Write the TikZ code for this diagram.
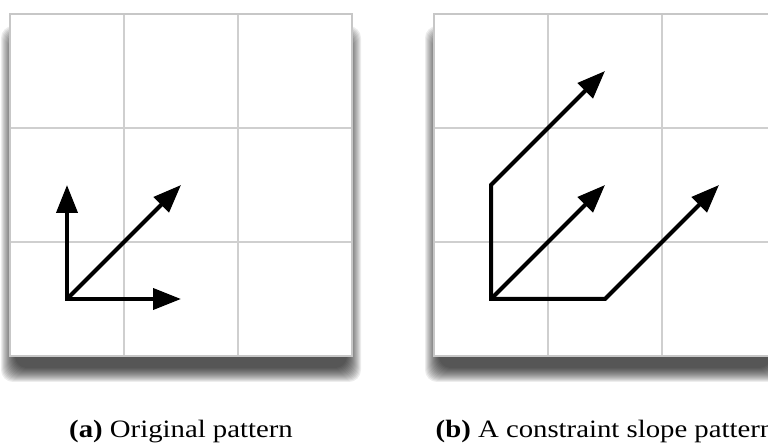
\documentclass[tikz,border=0pt]{standalone}
\usepackage{fontspec}
\setmainfont{Liberation Serif}[FakeStretch=1.15]
\usetikzlibrary{arrows.meta}

\begin{document}
\begin{tikzpicture}[
  x=0.5pt, y=0.5pt,
  every node/.style={font=\fontsize{12.5}{14}\selectfont, inner sep=0pt},
  gridline/.style={draw=black!19, line width=0.75pt},
  frame/.style   ={draw=black!22, line width=1pt},
  vec/.style     ={line width=2pt, line join=miter,
                   -{Triangle[length=14pt,width=10.5pt]}},
  twovec/.style  ={line width=2pt, line join=miter,
                   {Triangle[length=14pt,width=10.5pt]}-{Triangle[length=14pt,width=10.5pt]}},
  caption/.style ={anchor=base}]

\useasboundingbox (0,0) rectangle (768,443);
\clip (0,0) rectangle (768,443);

% the two panels: blurred shadow, white sheet, 3x3 grid
\foreach \px in {10,434} {
  \begin{scope}[shift={(\px,87)}]
    \foreach \g in {0,...,14}
      \fill[black, opacity=0.07, rounded corners=6]
        (-\g+5,-12-\g) rectangle (342+\g-5,342-12+\g-14);
    \fill[white] (0,0) rectangle (342,342);
    \foreach \k in {114,228} {
      \draw[gridline] (\k,0) -- (\k,342);
      \draw[gridline] (0,\k) -- (342,\k);
    }
    \draw[frame] (0,0) rectangle (342,342);
  \end{scope}
}

% (a) original pattern
\begin{scope}[shift={(10,87)}]
  \coordinate (a0)  at (57,57);
  \coordinate (aUp) at (57,171);
  \coordinate (aRt) at (171,57);
  \coordinate (aDg) at (171,171);
  \draw[twovec] (aUp) -- (a0) -- (aRt);
  \draw[vec] (a0) -- (aDg);
\end{scope}

% (b) constraint slope pattern
\begin{scope}[shift={(434,87)}]
  \coordinate (b0)   at (57,57);
  \coordinate (bUp)  at (57,171);
  \coordinate (bTop) at (171,285);
  \coordinate (bMid) at (171,171);
  \coordinate (bRt)  at (171,57);
  \coordinate (bFar) at (285,171);
  \draw[twovec] (bTop) -- (bUp) -- (b0) -- (bRt) -- (bFar);
  \draw[vec] (b0) -- (bMid);
\end{scope}

\node[caption] (capA) at (181,5) {\textbf{(a)} Original pattern};
\node[caption] (capB) at (605,5) {\textbf{(b)} A constraint slope pattern};

\end{tikzpicture}
\end{document}
